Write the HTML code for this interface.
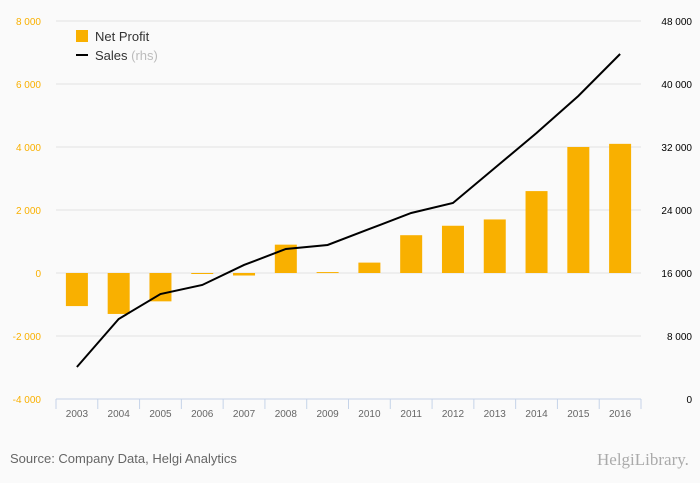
<!DOCTYPE html>
<html><head><meta charset="utf-8"><style>
body{margin:0;background:#fafafa;}
svg{display:block;font-family:"Liberation Sans",sans-serif;}
</style></head><body>
<svg id="c" width="700" height="483">
<rect width="700" height="483" fill="#fafafa"/>
<g id="grid"></g>
<g id="bars"></g>
<g id="line"></g>
<g id="axes"></g>
<g>
<rect x="76" y="30" width="12" height="12" fill="#f9b000"/>
<text x="95" y="41" font-size="13" fill="#333">Net Profit</text>
<line x1="76" y1="55" x2="88" y2="55" stroke="#000" stroke-width="2"/>
<text x="95" y="60" font-size="13" fill="#333">Sales <tspan fill="#bbb">(rhs)</tspan></text>
</g>
<text x="10" y="463" font-size="13" fill="#666">Source: Company Data, Helgi Analytics</text>
<text x="597" y="465" font-size="17" fill="#aaa" font-family="Liberation Serif,serif">HelgiLibrary.</text>
</svg>
<script>
const years=["2003","2004","2005","2006","2007","2008","2009","2010","2011","2012","2013","2014","2015","2016"];
const netProfit=[-1050,-1300,-900,-30,-80,900,30,330,1200,1500,1700,2600,4000,4100];
const sales=[4060,10160,13330,14480,17020,19050,19560,21590,23620,24890,29330,33780,38480,43810];
const leftTicks=[-4000,-2000,0,2000,4000,6000,8000];
const rightTicks=[0,8000,16000,24000,32000,40000,48000];
const NS="http://www.w3.org/2000/svg";
const L=56,R=641,T=21,B=399;
const step=(R-L)/years.length;
const x=i=>L+step*(i+0.5);
const yL=v=>B-(v+4000)/12000*(B-T);
const yR=v=>B-v/48000*(B-T);
const fmt=v=>{const s=Math.abs(v).toString().replace(/\B(?=(\d{3})+(?!\d))/g," ");return (v<0?"-":"")+s;};
function mk(t,a,p){const e=document.createElementNS(NS,t);for(const k in a)e.setAttribute(k,a[k]);document.getElementById(p).appendChild(e);return e;}
leftTicks.forEach((v,i)=>{
 if(v!==-4000){const g=mk("line",{x1:L,x2:R,y1:yL(v),y2:yL(v),stroke:"#e3e3e3"},"grid");
 
 }
 const t=mk("text",{x:41,y:yL(v)+4,"text-anchor":"end","font-size":"10",fill:"#f9b000"},"axes");t.textContent=fmt(v);
 
 
});
rightTicks.forEach(v=>{
 const t=mk("text",{x:692,y:yR(v)+4,"text-anchor":"end","font-size":"10",fill:"#000"},"axes");t.textContent=fmt(v);
 
 
});
netProfit.forEach((v,i)=>{
 const y0=yL(0),y1=yL(v);
 const b=mk("rect",{x:x(i)-11,width:22,y:Math.min(y0,y1),height:Math.max(1,Math.abs(y1-y0)),fill:"#f9b000"},"bars");
 
 
});
const pl=mk("polyline",{points:sales.map((v,i)=>x(i)+","+yR(v)).join(" "),fill:"none",stroke:"#000","stroke-width":"2"},"line");


const ax=mk("line",{x1:L,x2:R,y1:B,y2:B,stroke:"#c5d3e8"},"axes");


for(let i=0;i<=years.length;i++){
 const tk=mk("line",{x1:L+step*i,x2:L+step*i,y1:B,y2:B+10,stroke:"#c5d3e8"},"axes");
 
 
}
years.forEach((yv,i)=>{
 const t=mk("text",{x:x(i),y:417,"text-anchor":"middle","font-size":"10",fill:"#666"},"axes");t.textContent=yv;
 
 
});
</script>
</body></html>
